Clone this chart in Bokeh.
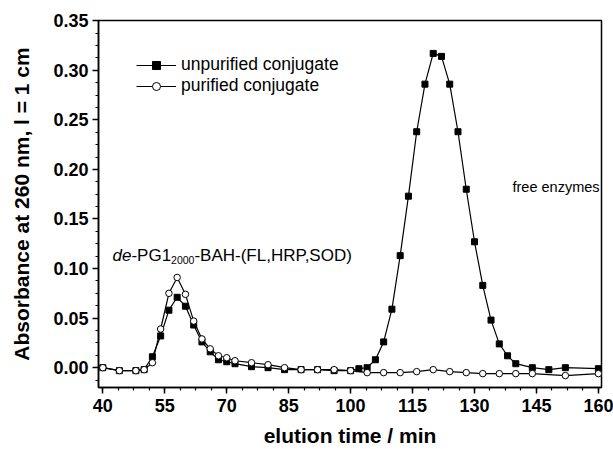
import math
from bokeh.plotting import figure
from bokeh.models import (Range1d, FixedTicker, Label, Legend, LegendItem,
                          NumeralTickFormatter)
from bokeh.embed import file_html
from bokeh.resources import INLINE

# ---- data ----
t_unpurified = [40, 44, 48, 50, 52, 54, 56, 58, 60, 62, 64, 66, 68, 70, 72,
                76, 80, 84, 88, 92, 96, 100,
                102, 104, 106, 108, 110, 112, 114, 116, 118, 120, 122, 124, 126, 128,
                130, 132, 134, 136, 138, 140, 144, 148, 152, 160]
a_unpurified = [0.000, -0.003, -0.003, -0.002, 0.011, 0.032, 0.058, 0.071, 0.062, 0.043,
                0.026, 0.016, 0.008, 0.006, 0.004,
                0.001, 0.000, -0.002, -0.002, -0.002, -0.003, -0.003,
                -0.001, 0.000, 0.008, 0.026, 0.059, 0.113, 0.173, 0.238, 0.286, 0.317,
                0.314, 0.286, 0.238, 0.180, 0.127, 0.083, 0.048, 0.024, 0.012, 0.004,
                0.000, -0.002, 0.000, -0.001]
t_purified = [40, 44, 48, 50, 52, 54, 56, 58, 60, 62, 64, 66, 68, 70, 72,
              76, 80, 84, 88, 92, 96, 100,
              104, 108, 112, 116, 120, 124, 128, 132, 136, 140, 144, 152, 160]
a_purified = [0.000, -0.003, -0.003, -0.002, 0.005, 0.039, 0.075, 0.091, 0.074, 0.047,
              0.029, 0.019, 0.012, 0.010, 0.007,
              0.005, 0.003, 0.000, -0.002, -0.002, -0.002, -0.003,
              -0.005, -0.005, -0.005, -0.004, -0.002, -0.004, -0.005, -0.006, -0.006,
              -0.006, -0.006, -0.008, -0.006]

x_major_ticks = [40, 55, 70, 85, 100, 115, 130, 145, 160]
x_minor_ticks = [40 + 3.75 * i for i in range(33)]
y_major_ticks = [0.00, 0.05, 0.10, 0.15, 0.20, 0.25, 0.30, 0.35]
y_minor_ticks = [-0.0125 + 0.0125 * i for i in range(30)]

series_labels = ["unpurified conjugate", "purified conjugate"]
x_title = "elution time / min"
y_title = "Absorbance at 260 nm, l = 1 cm"
peak1_label = ["de", "-PG1", "2000", "-BAH-(FL,HRP,SOD)"]
peak2_label = "free enzymes"

FONT = "Liberation Sans"

p = figure(width=613, height=449, output_backend="svg", toolbar_location=None,
           x_range=Range1d(38.95, 160.75), y_range=Range1d(-0.02, 0.3502),
           min_border_left=98, min_border_right=12, min_border_top=20,
           min_border_bottom=62)
p.background_fill_color = "white"
p.border_fill_color = "white"
p.outline_line_color = "black"
p.outline_line_width = 1.5
p.xgrid.visible = False
p.ygrid.visible = False

for ax in (p.xaxis[0], p.yaxis[0]):
    ax.axis_line_width = 1.5
    ax.major_tick_line_width = 1.5
    ax.minor_tick_line_width = 1.2
    ax.major_tick_in = 0
    ax.major_tick_out = 6
    ax.minor_tick_in = 0
    ax.minor_tick_out = 3
    ax.major_label_text_font = FONT
    ax.major_label_text_font_style = "bold"
    ax.major_label_text_font_size = "18px"
    ax.major_label_text_color = "black"
    ax.axis_line_color = "black"
    ax.major_tick_line_color = "black"
    ax.minor_tick_line_color = "black"
    ax.axis_label_text_font = FONT
    ax.axis_label_text_font_style = "bold"
    ax.axis_label_text_font_size = "21px"
    ax.axis_label_text_color = "black"

p.xaxis[0].ticker = FixedTicker(ticks=x_major_ticks, minor_ticks=x_minor_ticks)
p.yaxis[0].ticker = FixedTicker(ticks=y_major_ticks, minor_ticks=y_minor_ticks)
p.yaxis[0].formatter = NumeralTickFormatter(format="0.00")
p.xaxis[0].major_label_standoff = 5
p.yaxis[0].major_label_standoff = 4

p.xaxis[0].axis_label = x_title
p.xaxis[0].axis_label_standoff = 9
p.yaxis[0].axis_label = y_title
p.yaxis[0].axis_label_standoff = 17

# series
l1 = p.line(t_unpurified, a_unpurified, line_color="black", line_width=1.2)
s1 = p.scatter(t_unpurified, a_unpurified, marker="square", size=6,
               fill_color="black", line_color="black")
l2 = p.line(t_purified, a_purified, line_color="black", line_width=1.2)
s2 = p.scatter(t_purified, a_purified, marker="circle", size=6.5,
               fill_color="white", line_color="black", line_width=1)

legend = Legend(items=[LegendItem(label=series_labels[0], renderers=[l1, s1]),
                       LegendItem(label=series_labels[1], renderers=[l2, s2])],
                location=(38, 291), orientation="vertical")
legend.glyph_width = 40
legend.glyph_height = 20
legend.label_height = 20
legend.spacing = 0
legend.padding = 0
legend.margin = 0
legend.label_standoff = 5
legend.border_line_color = None
legend.background_fill_alpha = 0
legend.label_text_font = FONT
legend.label_text_font_size = "17.5px"
legend.label_text_color = "black"
p.add_layout(legend)

# peak annotation with italic "de" and subscript "2000"
f1 = 17.0
fsub = 10.5
x0 = 14
base = 132
w_de = 1.112 * f1
w_pg = 2.334 * f1
w_sub = 4 * 0.556 * fsub
pieces = [(peak1_label[0], "italic", f1, x0, base),
          (peak1_label[1], "normal", f1, x0 + w_de, base),
          (peak1_label[2], "normal", fsub, x0 + w_de + w_pg, base - 4),
          (peak1_label[3], "normal", f1, x0 + w_de + w_pg + w_sub, base)]
for txt, style, size, xx, yy in pieces:
    p.add_layout(Label(x=xx, y=yy, x_units="screen", y_units="screen", text=txt,
                       text_font=FONT, text_font_style=style,
                       text_font_size=f"{size}px", text_align="left",
                       text_baseline="alphabetic", text_color="black"))

p.add_layout(Label(x=414, y=201, x_units="screen", y_units="screen", text=peak2_label,
                   text_font=FONT, text_font_size="14.5px", text_align="left",
                   text_baseline="alphabetic", text_color="black"))

open("out.html", "w").write(file_html(p, INLINE))
